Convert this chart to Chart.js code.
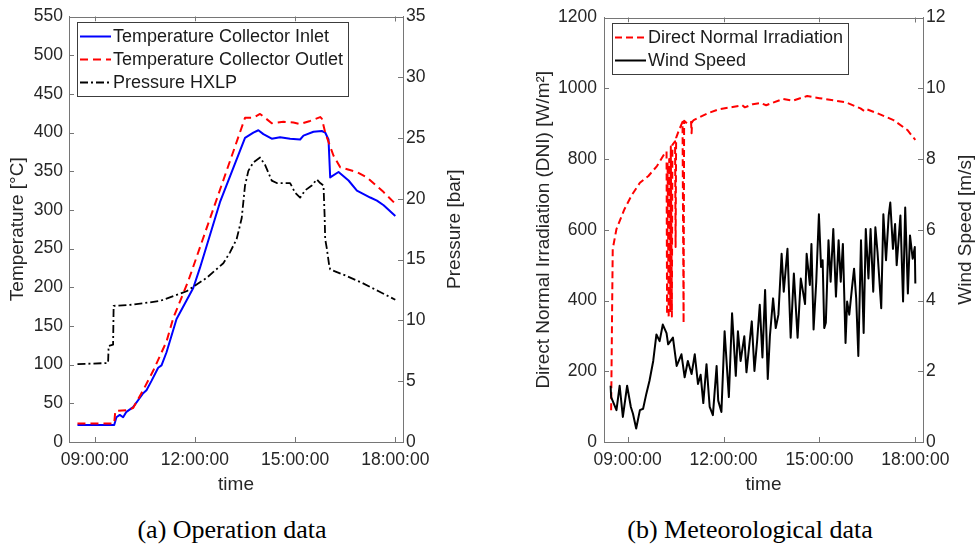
<!DOCTYPE html>
<html>
<head>
<meta charset="utf-8">
<script src="https://cdn.jsdelivr.net/npm/chart.js@4.4.0/dist/chart.umd.min.js"></script>
<style>
  html, body { margin: 0; padding: 0; background: #fff; }
  body { width: 975px; height: 548px; position: relative; overflow: hidden; }
  canvas { position: absolute; top: 0; }
  #chartA { left: 0; }
  #chartB { left: 487px; }
  .caption {
    position: absolute; top: 515px; width: 300px;
    font-family: 'Liberation Serif', 'Times New Roman', serif;
    font-size: 26px; line-height: 30px; color: #000;
    text-align: center; white-space: nowrap;
  }
</style>
</head>
<body>
<canvas id="chartA" width="487" height="500"></canvas>
<canvas id="chartB" width="488" height="500"></canvas>
<div class="caption" style="left:82px">(a) Operation data</div>
<div class="caption" style="left:600px">(b) Meteorological data</div>

<script>
// ---- (a) Operation data ----
const inletTimes = ['08:29','09:35','09:39','09:45','09:51','09:57','10:09','10:27','10:33','10:42','10:54','11:00','11:09','11:27','11:57','12:09','12:45','13:30','13:45','13:54','14:03','14:18','14:33','14:51','15:09','15:15','15:33','15:48','15:54','16:00','16:03','16:18','16:36','16:51','17:15','17:27','17:39','18:00'];
const inletTemp  = [22,22,32,35,32,39,45,63,67,79,96,99,116,159,199,225,310,393,400,403,398,392,394,392,391,396,401,402,400,391,342,349,338,325,316,312,306,292];

const outletTimes = ['08:29','09:35','09:37','09:57','10:09','10:27','10:45','11:09','11:21','11:48','13:30','13:45','13:57','14:06','14:18','14:39','14:57','15:09','15:27','15:45','15:48','15:54','16:09','16:21','16:51','17:09','17:39','18:00'];
const outletTemp  = [24,24,40,41,44,67,92,130,160,208,419,419,424,419,412,414,413,411,415,420,418,400,370,355,349,342,323,308];

const pressTimes = ['08:29','09:24','09:25','09:33','09:34','10:09','10:57','11:45','12:21','12:51','13:03','13:15','13:24','13:30','13:36','13:45','13:57','14:06','14:18','14:27','14:51','15:00','15:09','15:18','15:30','15:39','15:45','15:51','15:53','15:54','15:57','16:01','16:03','16:30','17:00','17:30','18:00'];
const pressBar   = [6.4,6.5,7.9,8.0,11.2,11.3,11.6,12.4,13.5,14.7,15.6,16.7,18.4,21.1,22.3,23.0,23.4,22.8,21.5,21.3,21.3,20.5,20.1,20.7,21.1,21.6,21.3,21.1,18.6,16.7,15.9,14.6,14.2,13.7,13.1,12.4,11.7];

// ---- (b) Meteorological data ----
const dniTimes = ['08:29','08:31','08:32','08:39','08:54','09:07','09:23','09:39','09:55','10:10','10:13','10:14','10:15','10:17','10:18','10:20','10:21','10:23','10:24','10:29','10:30','10:31','10:36','10:43','10:45','10:46','10:52','10:59','11:00','11:01','11:04','11:30','11:50','12:17','12:35','12:40','12:55','13:10','13:20','13:52','14:10','14:37','15:00','15:26','15:50','16:17','16:25','16:30','16:49','17:19','17:45','18:00'];
const dniVal   = [90,400,546,602,658,696,733,752,780,817,821,360,790,350,800,370,835,355,840,850,551,860,880,905,336,908,900,905,873,905,910,929,940,947,952,946,955,958,952,970,965,978,972,966,960,943,935,940,929,910,882,854];

const windTimes = ['08:28','08:29','08:39','08:45','08:51','08:59','09:06','09:10','09:16','09:23','09:29','09:35','09:41','09:48','09:54','10:00','10:06','10:13','10:16','10:25','10:32','10:41','10:47','10:53','11:00','11:06','11:12','11:17','11:22','11:28','11:34','11:40','11:47','11:50','11:56','12:02','12:10','12:16','12:23','12:27','12:32','12:39','12:43','12:53','12:58','13:03','13:08','13:13','13:18','13:23','13:27','13:33','13:38','13:43','13:49','13:53','14:00','14:06','14:12','14:19','14:25','14:33','14:36','14:42','14:45','14:49','14:54','14:59','15:03','15:06','15:09','15:12','15:17','15:21','15:26','15:31','15:36','15:40','15:44','15:49','15:52','15:56','16:01','16:05','16:09','16:13','16:18','16:23','16:27','16:32','16:36','16:41','16:45','16:49','16:56','17:00','17:05','17:10','17:13','17:18','17:22','17:25','17:32','17:37','17:41','17:46','17:50','17:55','17:59','18:00'];
const windSpeed = [1.59,1.27,0.90,1.59,0.71,1.59,0.99,0.80,0.38,0.90,0.94,1.36,1.73,2.29,3.04,2.85,3.32,3.08,2.76,2.95,2.15,2.48,1.83,2.29,1.92,2.48,1.64,1.90,1.10,2.20,0.99,0.76,2.15,1.17,0.85,3.13,1.27,3.64,1.87,3.13,2.29,2.99,1.97,3.41,2.01,2.85,3.88,2.39,4.30,1.78,2.99,4.06,3.22,3.60,5.32,4.25,5.46,2.95,4.76,2.95,4.62,3.90,5.32,4.44,5.60,3.18,4.53,6.44,4.95,5.14,3.22,3.37,5.70,4.53,6.02,4.11,5.70,4.53,5.60,2.80,3.97,3.60,4.34,4.90,4.06,2.43,5.70,3.08,6.02,4.62,6.02,4.25,6.07,5.37,3.78,6.44,5.14,6.40,6.77,5.46,6.16,5.00,6.40,3.97,6.63,4.20,5.84,5.18,5.51,4.48];

const xTickHours = [9, 12, 15, 18];

const FONT = "'Liberation Sans', Arial, Helvetica, sans-serif";
const AXIS_GREY = '#767676';
const TEXT_GREY = '#262626';

function toHours(s) {
    const [h, m] = s.split(':').map(Number);
    return h + m / 60;
}
function pairs(times, vals) {
    return times.map((t, i) => ({ x: toHours(t), y: vals[i] }));
}
function hhmmss(v) {
    return String(v).padStart(2, '0') + ':00:00';
}

// marco estilo MATLAB: borde superior, ticks hacia dentro, título eje derecho, leyenda con caja
const matlabFrame = {
    id: 'matlabFrame',
    afterDraw(chart, args, opts) {
        const ctx = chart.ctx;
        const a = chart.chartArea;
        const sx = chart.scales.x, yl = chart.scales.y, yr = chart.scales.y1;
        ctx.save();
        ctx.strokeStyle = AXIS_GREY;
        ctx.lineWidth = 1;
        ctx.beginPath();
        ctx.moveTo(a.left, Math.round(a.top) + 0.5);
        ctx.lineTo(a.right, Math.round(a.top) + 0.5);
        sx.ticks.forEach(t => {
            const px = Math.round(sx.getPixelForValue(t.value)) + 0.5;
            ctx.moveTo(px, a.bottom); ctx.lineTo(px, a.bottom - 5);
            ctx.moveTo(px, a.top); ctx.lineTo(px, a.top + 5);
        });
        yl.ticks.forEach(t => {
            const py = Math.round(yl.getPixelForValue(t.value)) + 0.5;
            ctx.moveTo(a.left, py); ctx.lineTo(a.left + 5, py);
        });
        yr.ticks.forEach(t => {
            const py = Math.round(yr.getPixelForValue(t.value)) + 0.5;
            ctx.moveTo(a.right, py); ctx.lineTo(a.right - 5, py);
        });
        ctx.stroke();

        // título eje derecho (girado como el izquierdo)
        ctx.save();
        ctx.fillStyle = TEXT_GREY;
        ctx.font = '19px ' + FONT;
        ctx.textAlign = 'center';
        ctx.textBaseline = 'middle';
        ctx.translate(opts.rightTitleX, (a.top + a.bottom) / 2);
        ctx.rotate(-Math.PI / 2);
        ctx.fillText(opts.rightTitle, 0, 0);
        ctx.restore();

        // leyenda
        const items = opts.legendOrder.map(i => chart.data.datasets[i]);
        ctx.font = '18px ' + FONT;
        let textW = 0;
        items.forEach(d => { textW = Math.max(textW, ctx.measureText(d.label).width); });
        const bx = a.left + 8, by = a.top + 5;
        const bw = 36 + textW + 5;
        const bh = 15 + 23 * (items.length - 1) + 13;
        ctx.fillStyle = '#fff';
        ctx.fillRect(bx, by, bw, bh);
        ctx.strokeStyle = '#3c3c3c';
        ctx.strokeRect(Math.round(bx) + 0.5, Math.round(by) + 0.5, Math.round(bw), Math.round(bh));
        items.forEach((d, i) => {
            const cy = by + 15 + 23 * i;
            ctx.beginPath();
            ctx.strokeStyle = d.borderColor;
            ctx.lineWidth = d.borderWidth;
            ctx.setLineDash(d.borderDash || []);
            ctx.moveTo(bx + 3, cy);
            ctx.lineTo(bx + 34, cy);
            ctx.stroke();
            ctx.setLineDash([]);
            ctx.fillStyle = '#1a1a1a';
            ctx.textAlign = 'left';
            ctx.textBaseline = 'middle';
            ctx.fillText(d.label, bx + 36, cy + 1);
        });
        ctx.restore();
    }
};

function xScale(min, max) {
    return {
        type: 'linear', min: min, max: max,
        afterBuildTicks: s => { s.ticks = xTickHours.map(v => ({ value: v })); },
        afterFit: s => { s.height = 58; },
        ticks: { callback: v => hhmmss(v), color: TEXT_GREY, font: { family: FONT, size: 17.5 }, padding: 8, maxRotation: 0, autoSkip: false },
        grid: { display: false, drawTicks: false },
        border: { display: true, color: AXIS_GREY },
        title: { display: true, text: 'time', color: TEXT_GREY, font: { family: FONT, size: 19 }, padding: { top: 0, bottom: 4 } }
    };
}

function yScale(pos, min, max, step, width, pad, title, titlePad) {
    return {
        type: 'linear', position: pos, min: min, max: max,
        afterFit: s => { s.width = width; },
        ticks: { stepSize: step, callback: v => String(v), color: TEXT_GREY, font: { family: FONT, size: 17.5 }, padding: pad },
        grid: { display: false, drawTicks: false },
        border: { display: true, color: AXIS_GREY },
        title: title ? { display: true, text: title, color: TEXT_GREY, font: { family: FONT, size: 19 }, padding: { top: titlePad, bottom: 0 } } : { display: false }
    };
}

const lineBase = { pointRadius: 0, tension: 0, fill: false, borderJoinStyle: 'round' };

new Chart(document.getElementById('chartA'), {
    type: 'line',
    data: {
        datasets: [
            Object.assign({ label: 'Pressure HXLP', data: pairs(pressTimes, pressBar), yAxisID: 'y1', borderColor: '#000000', borderDash: [8, 3, 2, 3], borderWidth: 1.8, order: 0 }, lineBase),
            Object.assign({ label: 'Temperature Collector Outlet', data: pairs(outletTimes, outletTemp), yAxisID: 'y', borderColor: '#ff0000', borderDash: [8, 5], borderWidth: 2, order: 1 }, lineBase),
            Object.assign({ label: 'Temperature Collector Inlet', data: pairs(inletTimes, inletTemp), yAxisID: 'y', borderColor: '#0000ff', borderWidth: 2, order: 2 }, lineBase)
        ]
    },
    options: {
        responsive: false, animation: false, devicePixelRatio: 1,
        layout: { padding: { top: 13, left: 0, right: 0, bottom: 0 } },
        plugins: {
            legend: { display: false }, tooltip: { enabled: false },
            matlabFrame: { legendOrder: [2, 1, 0], rightTitle: 'Pressure [bar]', rightTitleX: 455 }
        },
        scales: {
            x: xScale(8.23, 18.23),
            y: yScale('left', 0, 550, 50, 69, 6, 'Temperature [°C]', 6),
            y1: yScale('right', 0, 35, 5, 84, 3, null, 0)
        }
    },
    plugins: [matlabFrame]
});

new Chart(document.getElementById('chartB'), {
    type: 'line',
    data: {
        datasets: [
            Object.assign({ label: 'Wind Speed', data: pairs(windTimes, windSpeed), yAxisID: 'y1', borderColor: '#000000', borderWidth: 2, order: 0 }, lineBase),
            Object.assign({ label: 'Direct Normal Irradiation', data: pairs(dniTimes, dniVal), yAxisID: 'y', borderColor: '#ff0000', borderDash: [7, 4], borderWidth: 2, order: 1 }, lineBase)
        ]
    },
    options: {
        responsive: false, animation: false, devicePixelRatio: 1,
        layout: { padding: { top: 13, left: 0, right: 0, bottom: 0 } },
        plugins: {
            legend: { display: false }, tooltip: { enabled: false },
            matlabFrame: { legendOrder: [1, 0], rightTitle: 'Wind Speed [m/s]', rightTitleX: 479 }
        },
        scales: {
            x: xScale(8.26, 18.24),
            y: yScale('left', 0, 1200, 200, 117, 7, 'Direct Normal Irradiation (DNI) [W/m²]', 45),
            y1: yScale('right', 0, 12, 2, 52, 3, null, 0)
        }
    },
    plugins: [matlabFrame]
});
</script>
</body>
</html>
